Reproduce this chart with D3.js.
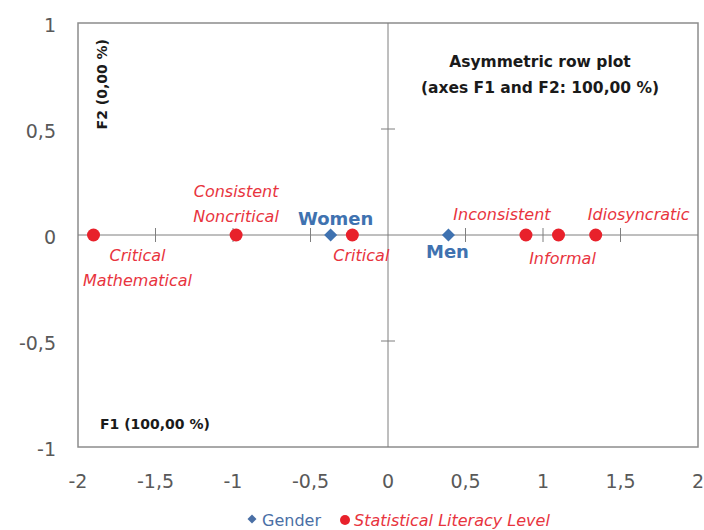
<!DOCTYPE html>
<html>
<head>
<meta charset="utf-8">
<script src="https://cdn.jsdelivr.net/npm/d3@7"></script>
<style>
  body { margin: 0; background: #fff; }
  svg text { font-family: "DejaVu Sans", sans-serif; }
</style>
</head>
<body>
<div id="chart"></div>
<script>
// data
var genderNames = ["Women", "Men"];
var genderF1 = [-0.37, 0.39];
var genderF2 = [0, 0];

var levelNames = [["Critical", "Mathematical"], ["Consistent", "Noncritical"], ["Critical"],
                  ["Inconsistent"], ["Informal"], ["Idiosyncratic"]];
var levelF1 = [-1.90, -0.98, -0.23, 0.89, 1.10, 1.34];
var levelF2 = [0, 0, 0, 0, 0, 0];

var xTicks = [-2, -1.5, -1, -0.5, 0, 0.5, 1, 1.5, 2];
var yTicks = [-1, -0.5, 0, 0.5, 1];

// label offsets (dx, baseline dy of first line) for each point, kept apart from the data
var genderLabelPos = [[5, -10], [-1, 23]];
var levelLabelPos = [[44, 26], [0, -38], [9, 26], [-24, -15], [4, 29], [43, -15]];

var width = 704, height = 530;
var margin = {left: 78, right: 6, top: 23, bottom: 83};

var svg = d3.select("#chart").append("svg")
  .attr("width", width).attr("height", height);

var x = d3.scaleLinear().domain([-2, 2]).range([margin.left, width - margin.right]);
var y = d3.scaleLinear().domain([-1, 1]).range([height - margin.bottom, margin.top]);

var fmt = function(d) { return String(d).replace(".", ","); };

// plot frame
svg.append("rect")
  .attr("x", x(-2)).attr("y", y(1))
  .attr("width", x(2) - x(-2)).attr("height", y(-1) - y(1))
  .attr("fill", "none").attr("stroke", "#8c8c8c").attr("stroke-width", 1.5);

// tick labels
svg.selectAll(".xl").data(xTicks).enter().append("text")
  .attr("x", function(d) { return x(d); })
  .attr("y", y(-1) + 41)
  .attr("text-anchor", "middle")
  .attr("font-size", 19).attr("fill", "#595959")
  .text(fmt);

svg.selectAll(".yl").data(yTicks).enter().append("text")
  .attr("x", x(-2) - 22)
  .attr("y", function(d) { return y(d) + 8.5; })
  .attr("text-anchor", "end")
  .attr("font-size", 19).attr("fill", "#595959")
  .text(fmt);

// centre axes with crossing ticks
var axisG = svg.append("g").attr("stroke", "#7f7f7f").attr("stroke-width", 1);
axisG.append("line").attr("x1", x(-2)).attr("x2", x(2)).attr("y1", y(0)).attr("y2", y(0));
axisG.append("line").attr("x1", x(0)).attr("x2", x(0)).attr("y1", y(1)).attr("y2", y(-1));
axisG.selectAll(".xt").data(xTicks.filter(function(d) { return d > -2 && d < 2 && d !== 0; }))
  .enter().append("line")
  .attr("x1", function(d) { return x(d); }).attr("x2", function(d) { return x(d); })
  .attr("y1", y(0) - 7).attr("y2", y(0) + 7);
axisG.selectAll(".yt").data(yTicks.filter(function(d) { return d > -1 && d < 1 && d !== 0; }))
  .enter().append("line")
  .attr("y1", function(d) { return y(d); }).attr("y2", function(d) { return y(d); })
  .attr("x1", x(0) - 7).attr("x2", x(0) + 7);

// axis titles inside the frame
svg.append("text")
  .attr("transform", "translate(" + (x(-2) + 29) + "," + (y(1) + 16) + ") rotate(-90)")
  .attr("text-anchor", "end")
  .attr("font-size", 14).attr("font-weight", "bold").attr("fill", "#1a1a1a")
  .text("F2 (0,00 %)");
svg.append("text")
  .attr("x", x(-2) + 22).attr("y", y(-1) - 18)
  .attr("font-size", 14).attr("font-weight", "bold").attr("fill", "#1a1a1a")
  .text("F1 (100,00 %)");

// chart title
var title = svg.append("text")
  .attr("text-anchor", "middle")
  .attr("font-size", 15.5).attr("font-weight", "bold").attr("fill", "#1a1a1a");
title.append("tspan").attr("x", 540).attr("y", 67).text("Asymmetric row plot");
title.append("tspan").attr("x", 540).attr("y", 93).text("(axes F1 and F2: 100,00 %)");

var red = "#e8212b", redText = "#e8343e", blue = "#3f72b0";

// statistical literacy level points
svg.selectAll(".lv").data(levelF1).enter().append("circle")
  .attr("cx", function(d) { return x(d); })
  .attr("cy", function(d, i) { return y(levelF2[i]); })
  .attr("r", 6.5).attr("fill", red);

levelNames.forEach(function(lines, i) {
  var t = svg.append("text")
    .attr("text-anchor", "middle")
    .attr("font-size", 16).attr("font-style", "italic").attr("fill", redText);
  lines.forEach(function(s, k) {
    t.append("tspan")
      .attr("x", x(levelF1[i]) + levelLabelPos[i][0])
      .attr("y", y(levelF2[i]) + levelLabelPos[i][1] + k * 25)
      .text(s);
  });
});

// gender points (diamonds)
svg.selectAll(".gd").data(genderF1).enter().append("path")
  .attr("d", d3.symbol(d3.symbolSquare, 85))
  .attr("transform", function(d, i) { return "translate(" + x(d) + "," + y(genderF2[i]) + ") rotate(45)"; })
  .attr("fill", blue);

svg.selectAll(".gl").data(genderNames).enter().append("text")
  .attr("x", function(d, i) { return x(genderF1[i]) + genderLabelPos[i][0]; })
  .attr("y", function(d, i) { return y(genderF2[i]) + genderLabelPos[i][1]; })
  .attr("text-anchor", "middle")
  .attr("font-size", 18).attr("font-weight", "bold").attr("fill", blue)
  .text(function(d) { return d; });

// legend
var lg = svg.append("g").attr("transform", "translate(0,526)");
lg.append("path").attr("d", d3.symbol(d3.symbolSquare, 40))
  .attr("transform", "translate(252,-7) rotate(45)").attr("fill", "#4a6fa5");
lg.append("text").attr("x", 262).attr("y", 0).attr("font-size", 16).attr("fill", "#4a6fa5").text("Gender");
lg.append("circle").attr("cx", 345).attr("cy", -6).attr("r", 5).attr("fill", red);
lg.append("text").attr("x", 354).attr("y", 0).attr("font-size", 16)
  .attr("font-style", "italic").attr("fill", redText).text("Statistical Literacy Level");
</script>
</body>
</html>
